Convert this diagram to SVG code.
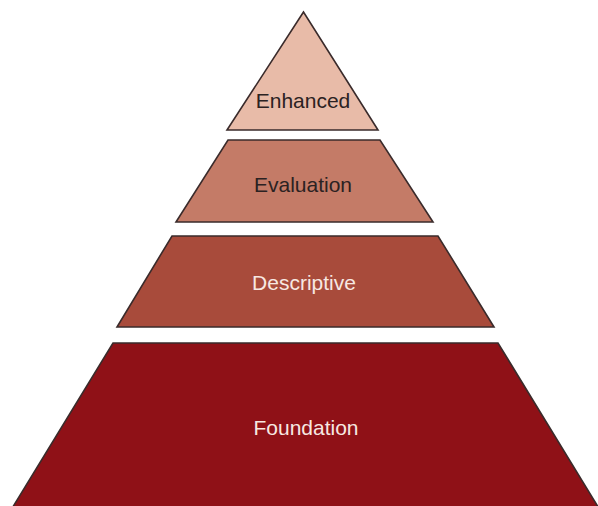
<svg xmlns="http://www.w3.org/2000/svg" width="598" height="506" viewBox="0 0 598 506">
<style>
.lvl{stroke:#3a2b2b;stroke-width:1.6;stroke-linejoin:miter}
.t{font-family:"Liberation Sans",Arial,sans-serif;font-size:21px;text-anchor:middle}
.dark{fill:#2b2222}
.light{fill:#f7e8e2}
</style>
<rect width="598" height="506" fill="#ffffff"/>
<g id="enhanced">
<polygon class="lvl" points="303.5,12 227,130 378,130" fill="#e8bba8"/>
<text class="t dark" x="303" y="108">Enhanced</text>
</g>
<g id="evaluation">
<polygon class="lvl" points="228,140 380,140 433,222 176,222" fill="#c47b67"/>
<text class="t dark" x="303" y="192">Evaluation</text>
</g>
<g id="descriptive">
<polygon class="lvl" points="172,236 438,236 494,327 117,327" fill="#a84b3b"/>
<text class="t light" x="304" y="290">Descriptive</text>
</g>
<g id="foundation">
<polygon class="lvl" points="113,343 498,343 600,510 11,510" fill="#8f1117"/>
<text class="t light" x="306" y="435">Foundation</text>
</g>
<g id="connectors"/>
</svg>
